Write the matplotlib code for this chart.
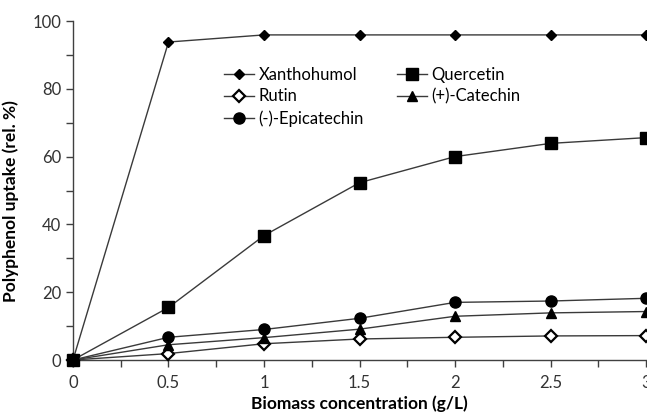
import matplotlib.pyplot as plt
from matplotlib.ticker import MultipleLocator

plt.rcParams['font.family'] = ['Lato', 'DejaVu Sans']

# biomass concentration (g/L)
biomass = [0, 0.5, 1, 1.5, 2, 2.5, 3]

# polyphenol uptake (rel. %)
xanthohumol = [0, 93.8, 95.9, 95.9, 95.9, 95.9, 95.9]
quercetin = [0, 15.5, 36.7, 52.3, 60.0, 63.9, 65.6]
rutin = [0, 1.9, 4.8, 6.2, 6.7, 7.1, 7.2]
catechin = [0, 4.5, 6.6, 9.1, 12.9, 13.9, 14.3]
epicatechin = [0, 6.7, 9.0, 12.3, 17.0, 17.4, 18.2]

fig = plt.figure(figsize=(6.47, 4.16), dpi=100)
ax = fig.add_axes([0.1128, 0.1346, 0.8857, 0.8149])

lc = '#3a3a3a'
kw = dict(color=lc, lw=1.0, clip_on=False, markeredgecolor='black', zorder=3)
h1, = ax.plot(biomass, xanthohumol, marker='D', ms=5, mfc='black', label='Xanthohumol', **kw)
h2, = ax.plot(biomass, quercetin, marker='s', ms=8, mfc='black', label='Quercetin', **kw)
h3, = ax.plot(biomass, rutin, marker='D', ms=6.5, mfc='white', mew=1.6, label='Rutin', **kw)
h4, = ax.plot(biomass, catechin, marker='^', ms=7, mfc='black', label='(+)-Catechin', **kw)
h5, = ax.plot(biomass, epicatechin, marker='o', ms=8, mfc='black', label='(-)-Epicatechin', **kw)

ax.set_xlim(0, 3)
ax.set_ylim(0, 100)
ax.xaxis.set_major_locator(MultipleLocator(0.5))
ax.xaxis.set_minor_locator(MultipleLocator(0.25))
ax.yaxis.set_major_locator(MultipleLocator(20))
ax.yaxis.set_minor_locator(MultipleLocator(10))
ax.xaxis.set_major_formatter(plt.FuncFormatter(lambda v, p: f'{v:g}'))

ax.spines['top'].set_visible(False)
ax.spines['right'].set_visible(False)
for s in ['left', 'bottom']:
    ax.spines[s].set_color('#404040')
    ax.spines[s].set_linewidth(1.0)
ax.tick_params(which='both', direction='out', length=5, width=1, color='#404040',
               labelsize=12, labelcolor='#333333')
ax.tick_params(axis='x', pad=6)

ax.set_xlabel('Biomass concentration (g/L)', fontsize=12.5, fontweight='bold', labelpad=3)
ax.set_ylabel('Polyphenol uptake (rel. %)', fontsize=12.5, fontweight='bold', labelpad=7)
ax.yaxis.set_label_coords(-0.095, 0.47)

ax.legend(handles=[h1, h3, h5, h2, h4], ncol=2, frameon=False, fontsize=12,
          loc='upper left', bbox_to_anchor=(0.2526, 0.885), handlelength=1.8,
          handletextpad=0.25, columnspacing=2.0, labelspacing=0.35, borderaxespad=0)

plt.savefig('out.png', dpi=100)
